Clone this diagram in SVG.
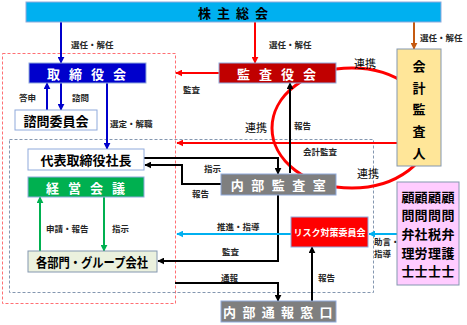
<svg xmlns="http://www.w3.org/2000/svg" width="467" height="325" viewBox="0 0 467 325">
<style>
text{font-family:"Noto Sans CJK JP","Noto Sans",sans-serif;dominant-baseline:central}
.t{font-weight:bold;font-size:13px}
.w{fill:#fff}
.lb{font-size:8.5px;font-weight:bold;fill:#262626}
.lk{font-size:11px;fill:#000}
.bx{stroke:#8FAADC;stroke-width:1}
.ln{fill:none;stroke-width:2}
</style>
<defs>
<marker id="mk" viewBox="0 0 10 10" refX="9" refY="5" markerWidth="7" markerHeight="7" markerUnits="userSpaceOnUse" orient="auto"><path d="M0,0 L10,5 L0,10 z" fill="#000"/></marker>
<marker id="mb" viewBox="0 0 10 10" refX="9" refY="5" markerWidth="7" markerHeight="7" markerUnits="userSpaceOnUse" orient="auto"><path d="M0,0 L10,5 L0,10 z" fill="#0000CC"/></marker>
<marker id="mr" viewBox="0 0 10 10" refX="9" refY="5" markerWidth="7" markerHeight="7" markerUnits="userSpaceOnUse" orient="auto"><path d="M0,0 L10,5 L0,10 z" fill="#FF0000"/></marker>
<marker id="mg" viewBox="0 0 10 10" refX="9" refY="5" markerWidth="7" markerHeight="7" markerUnits="userSpaceOnUse" orient="auto"><path d="M0,0 L10,5 L0,10 z" fill="#00B050"/></marker>
<marker id="mc" viewBox="0 0 10 10" refX="9" refY="5" markerWidth="7" markerHeight="7" markerUnits="userSpaceOnUse" orient="auto"><path d="M0,0 L10,5 L0,10 z" fill="#00B0F0"/></marker>
<marker id="mo" viewBox="0 0 10 10" refX="9" refY="5" markerWidth="7" markerHeight="7" markerUnits="userSpaceOnUse" orient="auto"><path d="M0,0 L10,5 L0,10 z" fill="#C55A11"/></marker>
</defs>
<rect width="467" height="325" fill="#fff"/>

<g id="frames" fill="none" stroke-width="1" stroke-dasharray="3,2">
<rect x="2.5" y="53.5" width="173" height="250" stroke="#FF6F73"/>
<rect x="9.5" y="139.5" width="364" height="153" stroke="#8497B0"/>
</g>

<g id="connectors">
<ellipse cx="352" cy="128" rx="80" ry="60" fill="none" stroke="#FF0000" stroke-width="3"/>
<line x1="61" y1="22" x2="61" y2="63" class="ln" stroke="#0000CC" marker-end="url(#mb)"/>
<line x1="255" y1="22" x2="255" y2="63" class="ln" stroke="#FF0000" marker-end="url(#mr)"/>
<line x1="414" y1="22" x2="414" y2="49" class="ln" stroke="#C55A11" marker-end="url(#mo)"/>
<line x1="219" y1="73" x2="176" y2="73" class="ln" stroke="#FF0000" marker-end="url(#mr)"/>
<line x1="397" y1="143" x2="177" y2="143" class="ln" stroke="#FF0000" marker-end="url(#mr)"/>
<line x1="290" y1="173" x2="290" y2="83" class="ln" stroke="#000" marker-end="url(#mk)"/>
<line x1="47" y1="110" x2="47" y2="83" class="ln" stroke="#0000CC" marker-end="url(#mb)"/>
<line x1="61" y1="83" x2="61" y2="110" class="ln" stroke="#0000CC" marker-end="url(#mb)"/>
<line x1="107" y1="83" x2="107" y2="149" class="ln" stroke="#0000CC" marker-end="url(#mb)"/>
<polyline points="144,158 278,158 278,174" class="ln" stroke="#000" marker-end="url(#mk)"/>
<polyline points="221,184 182,184 182,165 145,165" class="ln" stroke="#000" marker-end="url(#mk)"/>
<polyline points="278,195 278,261 158,261" class="ln" stroke="#000" marker-end="url(#mk)"/>
<line x1="40" y1="251" x2="40" y2="197" class="ln" stroke="#00B050" marker-end="url(#mg)"/>
<line x1="104" y1="197" x2="104" y2="251" class="ln" stroke="#00B050" marker-end="url(#mg)"/>
<line x1="291" y1="234" x2="177" y2="234" class="ln" stroke="#00B0F0" marker-end="url(#mc)"/>
<line x1="397" y1="234" x2="369" y2="234" class="ln" stroke="#00B0F0" marker-end="url(#mc)"/>
<polyline points="175,283 278,283 278,301" class="ln" stroke="#000" marker-end="url(#mk)"/>
<line x1="312" y1="301" x2="312" y2="247" class="ln" stroke="#000" marker-end="url(#mk)"/>
</g>

<g id="labels">
<text x="71" y="44" class="lb">選任・解任</text>
<text x="269" y="44" class="lb">選任・解任</text>
<text x="420" y="37" class="lb">選任・解任</text>
<text x="19" y="97" class="lb">答申</text>
<text x="72" y="97" class="lb">諮問</text>
<text x="110" y="123" class="lb">選定・解職</text>
<text x="183" y="89" class="lb">監査</text>
<text x="354" y="63" class="lk">連携</text>
<text x="245" y="127" class="lk">連携</text>
<text x="357" y="173" class="lk">連携</text>
<text x="294" y="125" class="lb">報告</text>
<text x="303" y="151" class="lb">会計監査</text>
<text x="204" y="168" class="lb">指示</text>
<text x="192" y="193" class="lb">報告</text>
<text x="46" y="228" class="lb">申請・報告</text>
<text x="112" y="228" class="lb">指示</text>
<text x="217" y="226" class="lb">推進・指導</text>
<text x="222" y="251" class="lb">監査</text>
<text x="221" y="277" class="lb">通報</text>
<text x="318" y="277" class="lb">報告</text>
<text x="374" y="241" class="lb" font-size="8">助言・</text>
<text x="374" y="252.5" class="lb" font-size="8">指導</text>
</g>

<g id="kabunushi">
<rect x="26" y="2" width="415" height="20" fill="#00B0F0" class="bx"/>
<text x="236" y="12" class="t" text-anchor="middle" letter-spacing="6">株主総会</text>
</g>
<g id="torishimariyakukai">
<rect x="29" y="63" width="117" height="20" fill="#0000CC" class="bx"/>
<text x="91" y="73" class="t w" text-anchor="middle" letter-spacing="9">取締役会</text>
</g>
<g id="shimon">
<rect x="15" y="110" width="82" height="20" fill="#fff" class="bx"/>
<text x="56" y="120" class="t" text-anchor="middle" font-size="14">諮問委員会</text>
</g>
<g id="kansayakukai">
<rect x="219" y="63" width="117" height="20" fill="#C00000" class="bx"/>
<text x="281" y="73" class="t w" text-anchor="middle" letter-spacing="9">監査役会</text>
</g>
<g id="kaikei">
<rect x="397" y="49" width="44" height="117" fill="#FFE699" stroke="#8497B0" stroke-width="1"/>
<g class="t" text-anchor="middle">
<text x="419" y="65">会</text>
<text x="419" y="87">計</text>
<text x="419" y="108">監</text>
<text x="419" y="130">査</text>
<text x="419" y="152">人</text>
</g>
</g>
<g id="daihyo">
<rect x="28" y="149" width="116" height="21" fill="#fff" class="bx"/>
<text x="86" y="159.5" class="t" text-anchor="middle">代表取締役社長</text>
</g>
<g id="keiei">
<rect x="28" y="177" width="116" height="20" fill="#00B050" class="bx"/>
<text x="90" y="187" class="t w" text-anchor="middle" letter-spacing="9">経営会議</text>
</g>
<g id="naibukansa">
<rect x="221" y="174" width="115" height="21" fill="#7F7F7F" class="bx"/>
<text x="282" y="184.5" class="t w" text-anchor="middle" font-size="14" letter-spacing="7.5">内部監査室</text>
</g>
<g id="risk">
<rect x="291" y="217" width="77" height="30" fill="#FF0000" class="bx"/>
<text x="329.5" y="232" class="w" font-weight="bold" font-size="9" text-anchor="middle">リスク対策委員会</text>
</g>
<g id="kakubumon">
<rect x="28" y="251" width="129" height="21" fill="#EBF1DE" stroke="#8497B0" stroke-width="1"/>
<text x="36" y="261.5" class="t" textLength="112" lengthAdjust="spacingAndGlyphs">各部門・グループ会社</text>
</g>
<g id="naibutsuho">
<rect x="221" y="301" width="115" height="21" fill="#7F7F7F" class="bx"/>
<text x="281" y="311.5" class="t w" text-anchor="middle" font-size="12" letter-spacing="6.3">内部通報窓口</text>
</g>
<g id="komon">
<rect x="397" y="182" width="62" height="103" fill="#FFCCFF" stroke="#8497B0" stroke-width="1"/>
<g class="t" font-size="12" text-anchor="middle">
<text x="408" y="196">顧</text><text x="421" y="196">顧</text><text x="434.5" y="196">顧</text><text x="448" y="196">顧</text>
<text x="408" y="214">問</text><text x="421" y="214">問</text><text x="434.5" y="214">問</text><text x="448" y="214">問</text>
<text x="408" y="233">弁</text><text x="421" y="233">社</text><text x="434.5" y="233">税</text><text x="448" y="233">弁</text>
<text x="408" y="252">理</text><text x="421" y="252">労</text><text x="434.5" y="252">理</text><text x="448" y="252">護</text>
<text x="408" y="270">士</text><text x="421" y="270">士</text><text x="434.5" y="270">士</text><text x="448" y="270">士</text>
</g>
</g>
</svg>
